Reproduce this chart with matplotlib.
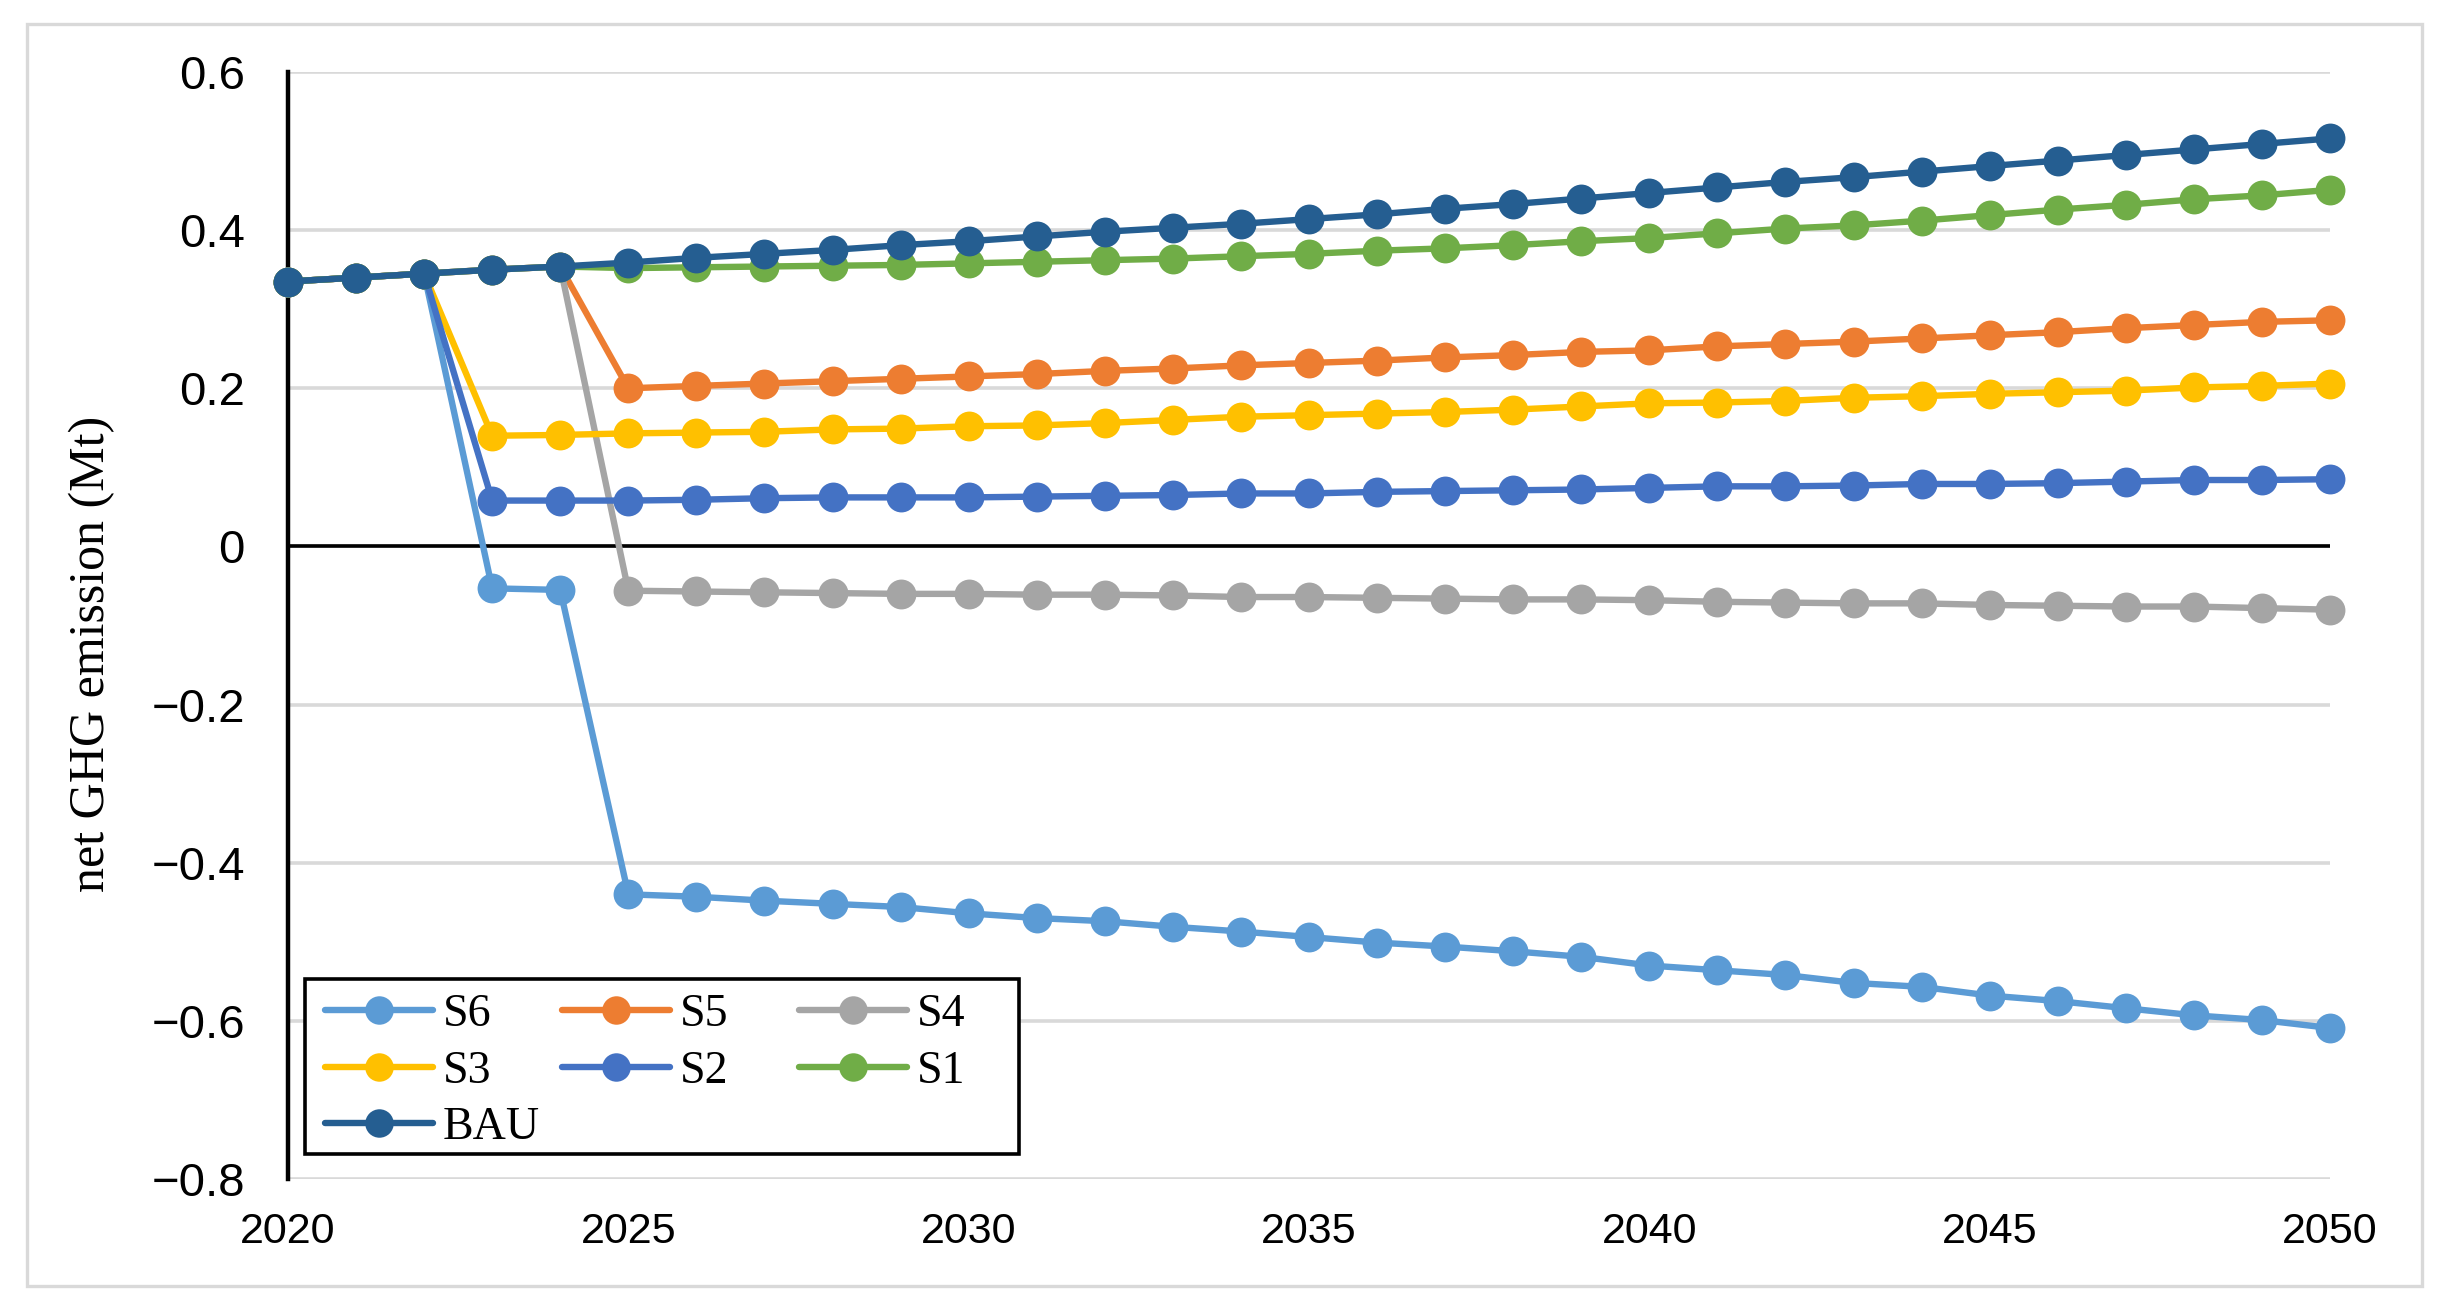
import matplotlib
matplotlib.use("Agg")
import matplotlib.pyplot as plt
from matplotlib.lines import Line2D
from matplotlib.patches import Rectangle

# ---------------- data ----------------
years = list(range(2020, 2051))

S6 = [0.335, 0.340, 0.345, -0.053, -0.055, -0.440, -0.443, -0.448, -0.452, -0.456,
      -0.464, -0.470, -0.474, -0.481, -0.487, -0.494, -0.501, -0.506, -0.512, -0.519,
      -0.530, -0.536, -0.542, -0.552, -0.557, -0.568, -0.575, -0.584, -0.593, -0.599, -0.609]
S5 = [0.335, 0.340, 0.345, 0.350, 0.354, 0.200, 0.203, 0.206, 0.209, 0.212,
      0.215, 0.218, 0.222, 0.225, 0.229, 0.232, 0.235, 0.239, 0.242, 0.246,
      0.248, 0.253, 0.256, 0.259, 0.263, 0.267, 0.271, 0.276, 0.280, 0.284, 0.286]
S4 = [0.335, 0.340, 0.345, 0.350, 0.354, -0.056, -0.057, -0.058, -0.059, -0.060,
      -0.060, -0.061, -0.061, -0.062, -0.064, -0.064, -0.065, -0.066, -0.067, -0.067,
      -0.068, -0.070, -0.071, -0.072, -0.072, -0.074, -0.075, -0.076, -0.076, -0.078, -0.080]
S3 = [0.335, 0.340, 0.345, 0.140, 0.141, 0.143, 0.144, 0.145, 0.148, 0.149,
      0.152, 0.153, 0.156, 0.160, 0.164, 0.166, 0.168, 0.170, 0.173, 0.177,
      0.181, 0.182, 0.184, 0.188, 0.190, 0.193, 0.195, 0.197, 0.201, 0.203, 0.206]
S2 = [0.335, 0.340, 0.345, 0.058, 0.058, 0.058, 0.059, 0.061, 0.062, 0.062,
      0.062, 0.063, 0.064, 0.065, 0.067, 0.067, 0.069, 0.070, 0.071, 0.072,
      0.074, 0.076, 0.076, 0.077, 0.079, 0.079, 0.080, 0.082, 0.084, 0.084, 0.085]
S1 = [0.335, 0.340, 0.345, 0.350, 0.354, 0.352, 0.353, 0.354, 0.355, 0.356,
      0.358, 0.360, 0.362, 0.364, 0.367, 0.370, 0.374, 0.377, 0.381, 0.386,
      0.390, 0.396, 0.402, 0.406, 0.412, 0.419, 0.426, 0.432, 0.439, 0.444, 0.451]
BAU = [0.335, 0.340, 0.345, 0.350, 0.354, 0.359, 0.365, 0.370, 0.375, 0.381,
       0.386, 0.392, 0.398, 0.403, 0.408, 0.414, 0.420, 0.427, 0.433, 0.440,
       0.447, 0.454, 0.461, 0.467, 0.474, 0.481, 0.488, 0.495, 0.502, 0.509, 0.516]

series_names = ["S6", "S5", "S4", "S3", "S2", "S1", "BAU"]
series_values = [S6, S5, S4, S3, S2, S1, BAU]
series_colors = ["#5B9BD5", "#ED7D31", "#A5A5A5", "#FFC000", "#4472C4", "#70AD47", "#255E91"]

xticks = [2020, 2025, 2030, 2035, 2040, 2045, 2050]
yticks = [-0.8, -0.6, -0.4, -0.2, 0.0, 0.2, 0.4, 0.6]
ytick_labels = ["\u22120.8", "\u22120.6", "\u22120.4", "\u22120.2", "0", "0.2", "0.4", "0.6"]
ylabel = "net GHG emission (Mt)"

tick_font = "Liberation Sans"
serif_font = "Liberation Serif"

# ---------------- figure ----------------
W, H = 2444, 1309
fig = plt.figure(figsize=(W / 100, H / 100), dpi=100)
fig.patch.set_facecolor("white")

def fx(px):
    return px / W

def fy(py):
    return 1 - py / H

ax_l, ax_r, ax_t, ax_b = 288, 2330, 72, 1179
ax = fig.add_axes([fx(ax_l), fy(ax_b), (ax_r - ax_l) / W, (ax_b - ax_t) / H])

LW, MS = 4.6, 21.5
for z, (name, vals, col) in enumerate(zip(series_names, series_values, series_colors)):
    ax.plot(years, vals, color=col, lw=LW, marker="o", markersize=MS,
            markeredgewidth=0, label=name, zorder=3 + z, clip_on=False)

ax.set_xlim(2020, 2050)
ax.set_ylim(-0.8, 0.6)
ax.set_xticks(xticks)
ax.set_xticklabels([str(v) for v in xticks], fontsize=31, family=tick_font)
ax.set_yticks(yticks)
ax.set_yticklabels(ytick_labels, fontsize=34, family=tick_font)
ax.tick_params(axis="both", length=0, colors="black")
ax.tick_params(axis="y", pad=31)
ax.tick_params(axis="x", pad=24)

ax.yaxis.grid(True, color="#d9d9d9", lw=2.6, zorder=0)
ax.set_axisbelow(True)
ax.axhline(0, color="black", lw=2.6, zorder=2)

for s in ["top", "right", "bottom"]:
    ax.spines[s].set_visible(False)
ax.spines["left"].set_color("black")
ax.spines["left"].set_linewidth(3.2)
ax.spines["left"].set_zorder(2.5)

fig.text(fx(92), fy(654), ylabel, rotation=90, ha="center", va="center",
         fontsize=36, family=serif_font)

# ---------------- legend (drawn by hand, Excel-like fixed grid) ----------------
fig.patches.append(Rectangle((fx(304.5), fy(1154)), (1018.5 - 304.5) / W, (1154 - 979) / H,
                             transform=fig.transFigure, facecolor="white", edgecolor="black",
                             lw=2.6, zorder=4))
legend_layout = [("S6", 325, 1010), ("S5", 561.5, 1010), ("S4", 799, 1010),
                 ("S3", 325, 1067), ("S2", 561.5, 1067), ("S1", 799, 1067),
                 ("BAU", 325, 1123)]
color_of = dict(zip(series_names, series_colors))
for name, x0, yc in legend_layout:
    c = color_of[name]
    fig.add_artist(Line2D([fx(x0), fx(x0 + 108)], [fy(yc), fy(yc)], transform=fig.transFigure,
                          color=c, lw=LW, zorder=5, solid_capstyle="round"))
    fig.add_artist(Line2D([fx(x0 + 54)], [fy(yc)], transform=fig.transFigure, color=c,
                          marker="o", markersize=MS - 1, markeredgewidth=0, lw=0, zorder=6))
    fig.text(fx(x0 + 118), fy(yc), name, ha="left", va="center_baseline", fontsize=33,
             family=serif_font, zorder=6)

# outer border
fig.patches.append(Rectangle((fx(27), fy(1286)), (2422 - 27) / W, (1286 - 24) / H,
                             transform=fig.transFigure, fill=False, edgecolor="#d9d9d9",
                             lw=2.4, zorder=1))

fig.savefig("out.png", dpi=100, facecolor="white")
